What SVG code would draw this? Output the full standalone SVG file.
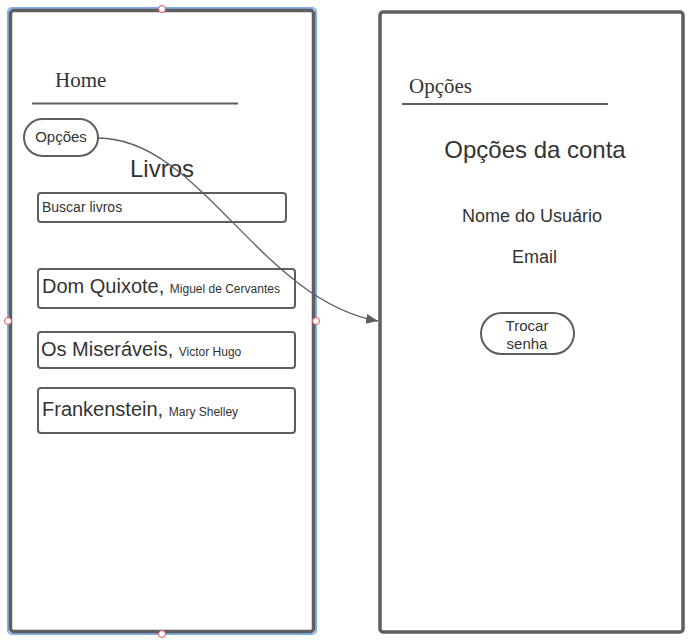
<svg xmlns="http://www.w3.org/2000/svg" width="695" height="641" viewBox="0 0 695 641">
<style>
.phone{fill:#fff;stroke:#5e5e5e;stroke-width:3.5}
.box{fill:#fff;stroke:#5e5e5e;stroke-width:2}
.line{stroke:#5e5e5e;stroke-width:2}
.sans{font-family:"Liberation Sans",Arial,sans-serif;fill:#333}
.serif{font-family:"Liberation Serif","Times New Roman",serif;fill:#333}
.handle{fill:#fff;stroke:#e0505a;stroke-width:1}
</style>
<defs>
<marker id="arrow" viewBox="0 0 12 10" refX="12" refY="5" markerWidth="12" markerHeight="10" markerUnits="userSpaceOnUse" orient="auto">
<path d="M0,0 L12,5 L0,10 Z" fill="#5e5e5e"/>
</marker>
</defs>
<rect width="695" height="641" fill="#fff"/>
<g id="home-screen">
<rect x="8" y="8" width="308" height="626" rx="4" fill="none" stroke="#7fb0ea" stroke-width="2"/>
<rect class="phone" x="10.5" y="10.5" width="303" height="621" rx="3"/>
<text class="serif" x="55" y="87" font-size="21">Home</text>
<line class="line" x1="32" y1="103.5" x2="238" y2="103.5"/>
<text class="sans" x="162" y="177" font-size="24" text-anchor="middle">Livros</text>
</g>
<g id="opcoes-button">
<rect class="box" x="24" y="119" width="74" height="37" rx="18.5"/>
<text class="sans" x="61" y="142" font-size="15" text-anchor="middle">Opções</text>
</g>
<g id="buscar">
<rect class="box" x="38" y="193" width="248" height="29" rx="3"/>
<text class="sans" x="42" y="212" font-size="14">Buscar livros</text>
</g>
<g id="book1">
<rect class="box" x="38" y="269" width="257" height="39" rx="3"/>
<text class="sans" x="42" y="293"><tspan font-size="20">Dom Quixote, </tspan><tspan font-size="12">Miguel de Cervantes</tspan></text>
</g>
<g id="book2">
<rect class="box" x="38" y="332" width="257" height="36" rx="3"/>
<text class="sans" x="41" y="356"><tspan font-size="20">Os Miseráveis, </tspan><tspan font-size="12">Victor Hugo</tspan></text>
</g>
<g id="book3">
<rect class="box" x="38" y="388" width="257" height="45" rx="3"/>
<text class="sans" x="42" y="416"><tspan font-size="20">Frankenstein, </tspan><tspan font-size="12">Mary Shelley</tspan></text>
</g>
<g id="options-screen">
<rect class="phone" x="380" y="12" width="303" height="620" rx="3"/>
<text class="serif" x="409" y="93" font-size="21">Opções</text>
<line class="line" x1="402" y1="104" x2="608" y2="104"/>
<text class="sans" x="535" y="158" font-size="24" text-anchor="middle">Opções da conta</text>
<text class="sans" x="532" y="222" font-size="18" text-anchor="middle">Nome do Usuário</text>
<text class="sans" x="534.5" y="263" font-size="18" text-anchor="middle">Email</text>
</g>
<g id="trocar-senha">
<rect class="box" x="481" y="313" width="93" height="41" rx="20.5"/>
<text class="sans" x="527" y="331" font-size="15" text-anchor="middle">Trocar</text>
<text class="sans" x="527" y="349" font-size="15" text-anchor="middle">senha</text>
</g>
<g id="connectors">
<path d="M98,138 C200,138 260,300 378,321" fill="none" stroke="#5e5e5e" stroke-width="1.3" marker-end="url(#arrow)"/>
</g>
<g id="handles">
<circle class="handle" cx="162" cy="9" r="3.5"/>
<circle class="handle" cx="8" cy="321" r="3.5"/>
<circle class="handle" cx="316" cy="321" r="3.5"/>
<circle class="handle" cx="162" cy="634" r="3.5"/>
</g>
</svg>
